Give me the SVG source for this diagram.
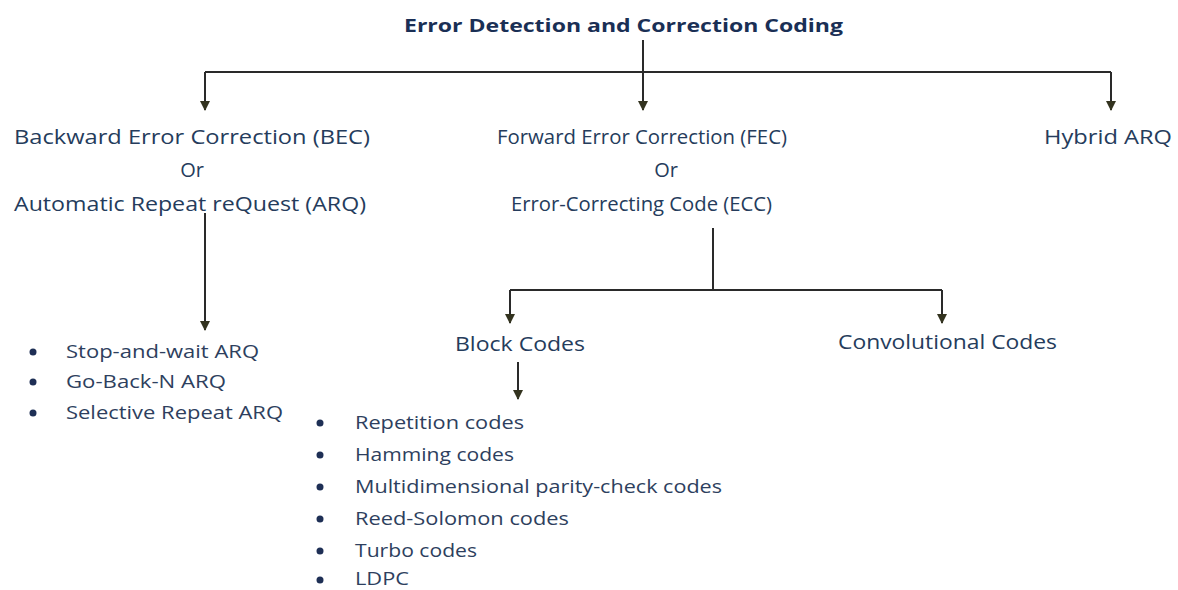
<svg xmlns="http://www.w3.org/2000/svg" width="1178" height="590" viewBox="0 0 1178 590">
<defs>
<marker id="ah" viewBox="0 0 10 10" refX="9" refY="5" markerWidth="10" markerHeight="11" markerUnits="userSpaceOnUse" orient="auto">
<path d="M0,0 L10,5 L0,10 Z" fill="#33331f"/>
</marker>
<style>
.t{font-family:"Open Sans","Noto Sans","Liberation Sans",sans-serif;fill:#253c5c;font-size:20px}
.h{font-family:"Open Sans","Noto Sans","Liberation Sans",sans-serif;fill:#1a2f55;font-size:18px;font-weight:bold}
.b{font-family:"Open Sans","Noto Sans","Liberation Sans",sans-serif;fill:#2e3f5e;font-size:18px}
.c{stroke:#2a2a2a;stroke-width:2;fill:none}
.a{stroke:#2a2a2a;stroke-width:2;fill:none;marker-end:url(#ah)}
.d{fill:#1e2f55}
</style>
</defs>
<rect width="1178" height="590" fill="#ffffff"/>
<g id="connectors">
<path class="c" d="M205,72 H1111"/>
<path class="a" d="M643,40 V110"/>
<path class="a" d="M205,72 V110"/>
<path class="a" d="M1111,72 V110"/>
<path class="a" d="M205,213 V330"/>
<path class="c" d="M713,228 V290"/>
<path class="c" d="M510,290 H942"/>
<path class="a" d="M510,290 V323"/>
<path class="a" d="M942,290 V323"/>
<path class="a" d="M518,362 V399"/>
</g>
<g id="root"><text class="h" x="404" y="32" textLength="439" lengthAdjust="spacingAndGlyphs">Error Detection and Correction Coding</text></g>
<g id="bec">
<text class="t" x="14" y="144" textLength="356" lengthAdjust="spacingAndGlyphs">Backward Error Correction (BEC)</text>
<text class="t" x="192" y="177" text-anchor="middle">Or</text>
<text class="t" x="14" y="211" textLength="352" lengthAdjust="spacingAndGlyphs">Automatic Repeat reQuest (ARQ)</text>
</g>
<g id="fec">
<text class="t" x="497" y="144" textLength="290" lengthAdjust="spacingAndGlyphs">Forward Error Correction (FEC)</text>
<text class="t" x="666" y="177" text-anchor="middle">Or</text>
<text class="t" x="511" y="211" textLength="261" lengthAdjust="spacingAndGlyphs">Error-Correcting Code (ECC)</text>
</g>
<g id="hybrid"><text class="t" x="1044" y="144" textLength="128" lengthAdjust="spacingAndGlyphs">Hybrid ARQ</text></g>
<g id="arq-list">
<circle class="d" cx="33" cy="352" r="3.5"/>
<text class="b" x="66" y="358" textLength="193" lengthAdjust="spacingAndGlyphs">Stop-and-wait ARQ</text>
<circle class="d" cx="33" cy="382" r="3.5"/>
<text class="b" x="66" y="388" textLength="160" lengthAdjust="spacingAndGlyphs">Go-Back-N ARQ</text>
<circle class="d" cx="33" cy="413" r="3.5"/>
<text class="b" x="66" y="419" textLength="217" lengthAdjust="spacingAndGlyphs">Selective Repeat ARQ</text>
</g>
<g id="block"><text class="t" x="455" y="351" textLength="130" lengthAdjust="spacingAndGlyphs">Block Codes</text></g>
<g id="conv"><text class="t" x="838" y="349" textLength="219" lengthAdjust="spacingAndGlyphs">Convolutional Codes</text></g>
<g id="block-list">
<circle class="d" cx="320" cy="423" r="3.5"/>
<text class="b" x="355" y="429" textLength="169" lengthAdjust="spacingAndGlyphs">Repetition codes</text>
<circle class="d" cx="320" cy="455" r="3.5"/>
<text class="b" x="355" y="461" textLength="159" lengthAdjust="spacingAndGlyphs">Hamming codes</text>
<circle class="d" cx="320" cy="487" r="3.5"/>
<text class="b" x="355" y="493" textLength="367" lengthAdjust="spacingAndGlyphs">Multidimensional parity-check codes</text>
<circle class="d" cx="320" cy="519" r="3.5"/>
<text class="b" x="355" y="525" textLength="214" lengthAdjust="spacingAndGlyphs">Reed-Solomon codes</text>
<circle class="d" cx="320" cy="551" r="3.5"/>
<text class="b" x="355" y="557" textLength="122" lengthAdjust="spacingAndGlyphs">Turbo codes</text>
<circle class="d" cx="320" cy="580" r="3.5"/>
<text class="b" x="355" y="585" textLength="54" lengthAdjust="spacingAndGlyphs">LDPC</text>
</g>
</svg>
